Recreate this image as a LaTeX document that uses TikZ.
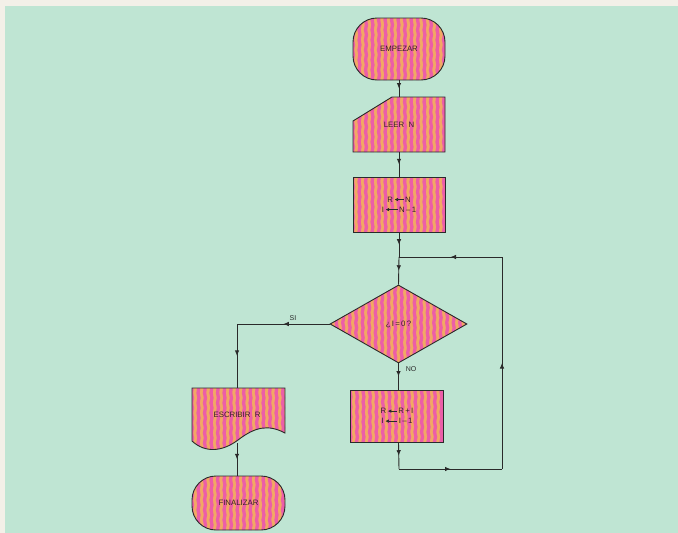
\documentclass[tikz,border=0pt]{standalone}
\usepackage{fontspec}
\setmainfont{Liberation Sans}
\usetikzlibrary{shapes.geometric,decorations.markings,decorations.pathmorphing,arrows.meta}
\definecolor{bgout}{HTML}{F3F0E8}
\definecolor{bggreen}{HTML}{BFE5D3}
\definecolor{pnk}{HTML}{EC5EA8}
\definecolor{orng}{HTML}{F2A864}
\definecolor{ink}{HTML}{2A2A2A}
\definecolor{txt}{HTML}{3A1F2A}
\newcommand{\larrow}[1]{\tikz[baseline=0pt]\draw[ink, line width=0.6pt, -{Latex[length=3.5pt,width=3.5pt]}] (#1,2.6pt) -- (0pt,2.6pt);}
\tikzset{
  stripefill/.style={path picture={
    \fill[orng, sharp corners] (path picture bounding box.south west) rectangle (path picture bounding box.north east);
    \foreach \k in {-1,...,24}{
      \draw[pnk, sharp corners, line width=3.3pt, decorate, decoration={snake, amplitude=0.45pt, segment length=10pt}]
        ([xshift=\k*6.5pt, yshift=-3pt]path picture bounding box.south west) --
        ([xshift=\k*6.5pt, yshift=3pt]path picture bounding box.north west);
    }}},
  shapeline/.style={draw=ink, line width=0.9pt},
  shapebox/.style={shapeline, stripefill, font=\fontsize{7.8}{10}\selectfont, text=txt, align=center, inner sep=0pt},
  stadium/.style={shapebox, rectangle, rounded corners=24pt},
  procbox/.style={shapebox, rectangle},
  decbox/.style={shapebox, diamond},
  lbl/.style={rectangle, inner sep=0pt, font=\fontsize{7.8}{10}\selectfont, text=txt, align=center},
  flow/.style={draw=ink, line width=0.9pt},
  midarrow/.style={postaction={decorate}, decoration={markings, mark=at position 0.5 with {\arrow{Latex[length=5.5pt,width=4.5pt]}}}},
  tag/.style={font=\fontsize{7}{8}\selectfont, text=ink, inner sep=0pt}
}
\begin{document}
\begin{tikzpicture}[x=1pt, y=-1pt]
\useasboundingbox (0,0) rectangle (678,533);
\fill[bgout] (0,0) rectangle (678,533);
\fill[bggreen] (5,6) rectangle (678,533);

% shapes
\node[stadium, minimum width=92pt, minimum height=62pt] (start) at (399,49) {EMPEZAR};
\path[shapeline, stripefill] (353,121) -- (392,97) -- (445,97) -- (445,152) -- (353,152) -- cycle;
\node[lbl, minimum width=92pt, minimum height=55pt] (read) at (399,124.5) {LEER~~N};
\node[procbox, minimum width=92pt, minimum height=55pt] (init) at (399,204.5)
  {R\,\larrow{9pt}\,N\\ I\,\larrow{12pt}\,N\,--\,1};
\node[decbox, minimum width=137pt, minimum height=78pt] (dec) at (398.5,324) {¿\,I\,=\,0\,?};
\node[procbox, minimum width=93pt, minimum height=52pt] (loop) at (397,416)
  {R\,\larrow{9pt}\,R\,+\,I\\ I\,\larrow{12pt}\,I\,--\,1};
\path[shapeline, stripefill] (192,388) -- (285,388) -- (285,433)
  .. controls (268,424) and (255,427) .. (238,440)
  .. controls (222,452) and (205,453) .. (192,441) -- cycle;
\node[lbl, minimum width=93pt, minimum height=54pt] (wr) at (237,415) {ESCRIBIR~~R};
\node[stadium, minimum width=93pt, minimum height=54pt] (fin) at (238.5,503) {FINALIZAR};

% coordinates
\coordinate (j) at (399,257);
\coordinate (b1) at (399,469);
\coordinate (b2) at (502,469);
\coordinate (b3) at (502,257);
\coordinate (c1) at (237,324);
\coordinate (wrb) at (237,443);

% connectors
\draw[flow, midarrow] (start.south) -- (read.north);
\draw[flow, midarrow] (read.south) -- (init.south |- init.north);
\draw[flow, midarrow] (init.south) -- (j);
\draw[flow, midarrow] (j) -- (dec.north);
\draw[flow, midarrow] (dec.west) -- (c1);
\draw[flow, midarrow] (c1) -- (wr.north -| c1);
\draw[flow, midarrow] (dec.south) -- (dec.south |- loop.north);
\draw[flow, midarrow] (dec.south |- loop.south) -- (b1);
\draw[flow, midarrow] (b1) -- (b2);
\draw[flow, midarrow] (b2) -- (b3);
\draw[flow, midarrow] (b3) -- (j);
\draw[flow, midarrow] (wrb) -- (wrb |- fin.north);

% labels
\node[tag] (si) at (293,318) {SI};
\node[tag] (no) at (411,369) {NO};
\end{tikzpicture}
\end{document}
